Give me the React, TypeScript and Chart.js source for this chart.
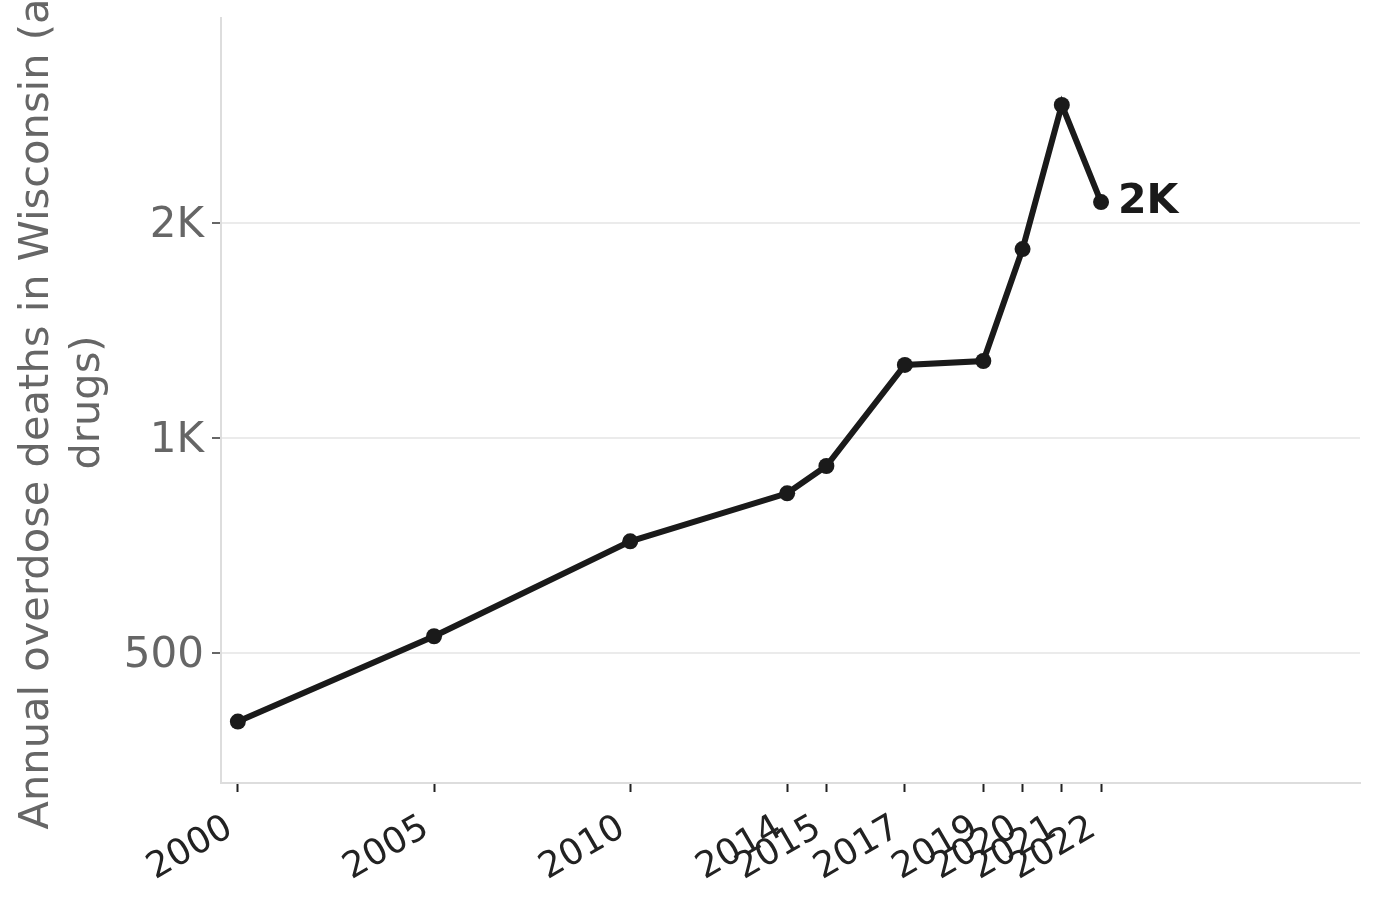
import React, { useEffect, useRef } from "react";
import { Chart, registerables } from "chart.js";

Chart.register(...registerables);

const years = [2000, 2005, 2010, 2014, 2015, 2017, 2019, 2020, 2021, 2022];
const deaths = [401, 528, 717, 837, 914, 1266, 1282, 1839, 2926, 2140];
const yTickValues = [500, 1000, 2000];
const yTitleLines = ["Annual overdose deaths in Wisconsin (all", "drugs)"];

const FONT = "'DejaVu Sans', sans-serif";

function formatK(v: number): string {
  if (v >= 1000) return Math.round(v / 1000) + "K";
  return String(v);
}

const overlayPlugin = {
  id: "overlay",
  afterDraw(chart: any) {
    const { ctx, chartArea } = chart;

    // y axis title, let it run past the canvas like the original
    ctx.save();
    ctx.fillStyle = "#666666";
    ctx.font = `41.6px ${FONT}`;
    ctx.textAlign = "center";
    ctx.textBaseline = "middle";
    ctx.translate(37, (chartArea.top + chartArea.bottom) / 2 + 2);
    ctx.rotate(-Math.PI / 2);
    yTitleLines.forEach((line, i) => ctx.fillText(line, 0, i * 51));
    ctx.restore();

    // label on the last point
    const meta = chart.getDatasetMeta(0);
    const last = meta.data[meta.data.length - 1];
    ctx.save();
    ctx.fillStyle = "#1a1a1a";
    ctx.font = `bold 41px ${FONT}`;
    ctx.textAlign = "left";
    ctx.textBaseline = "middle";
    ctx.fillText(formatK(deaths[deaths.length - 1]), last.x + 17, last.y);
    ctx.restore();
  },
};

const App = () => {
  const canvasRef = useRef<HTMLCanvasElement | null>(null);

  useEffect(() => {
    if (!canvasRef.current) return;
    const chart = new Chart(canvasRef.current, {
      type: "line",
      data: {
        datasets: [
          {
            data: years.map((y, i) => ({ x: y, y: deaths[i] })),
            borderColor: "#1a1a1a",
            backgroundColor: "#1a1a1a",
            borderWidth: 6,
            pointRadius: 8,
            pointBackgroundColor: "#1a1a1a",
            pointBorderWidth: 0,
            tension: 0,
          },
        ],
      },
      options: {
        animation: false,
        responsive: true,
        maintainAspectRatio: false,
        layout: { padding: { top: 18, right: 20, left: 0, bottom: 0 } },
        plugins: {
          legend: { display: false },
          tooltip: { enabled: false },
        },
        scales: {
          x: {
            type: "linear",
            min: 1999.57,
            max: 2028.6,
            afterBuildTicks: (scale: any) => {
              scale.ticks = years.map((y) => ({ value: y }));
            },
            afterFit: (scale: any) => {
              scale.height = 116;
              scale.paddingLeft = 0;
              scale.paddingRight = 0;
            },
            ticks: {
              autoSkip: false,
              minRotation: 30,
              maxRotation: 30,
              padding: 15,
              labelOffset: -8,
              color: "#222222",
              font: { family: FONT, size: 36 },
              callback: (v: any) => String(v),
            },
            grid: {
              drawOnChartArea: false,
              drawTicks: true,
              tickLength: 9,
              tickColor: "#222222",
              tickWidth: 2,
            },
            border: { display: true, color: "#dddddd", width: 2 },
          },
          y: {
            type: "logarithmic",
            min: 329,
            max: 3873,
            afterBuildTicks: (scale: any) => {
              scale.ticks = yTickValues.map((v) => ({ value: v }));
            },
            afterFit: (scale: any) => {
              scale.width = 221;
              scale.paddingTop = 0;
              scale.paddingBottom = 0;
            },
            ticks: {
              padding: 8,
              labelOffset: 3,
              color: "#666666",
              font: { family: FONT, size: 42 },
              callback: (v: any) => formatK(Number(v)),
            },
            grid: {
              color: "#ebebeb",
              lineWidth: 2,
              drawTicks: true,
              tickLength: 9,
              tickColor: "#666666",
              tickWidth: 2,
            },
            border: { display: true, color: "#dddddd", width: 2 },
          },
        },
      },
      plugins: [overlayPlugin],
    });
    return () => {
      chart.destroy();
    };
  }, []);

  return (
    <div
      style={{
        position: "fixed",
        left: 0,
        top: 0,
        width: 1380,
        height: 899,
        background: "#ffffff",
      }}
    >
      <canvas ref={canvasRef} />
    </div>
  );
};

export default App;
